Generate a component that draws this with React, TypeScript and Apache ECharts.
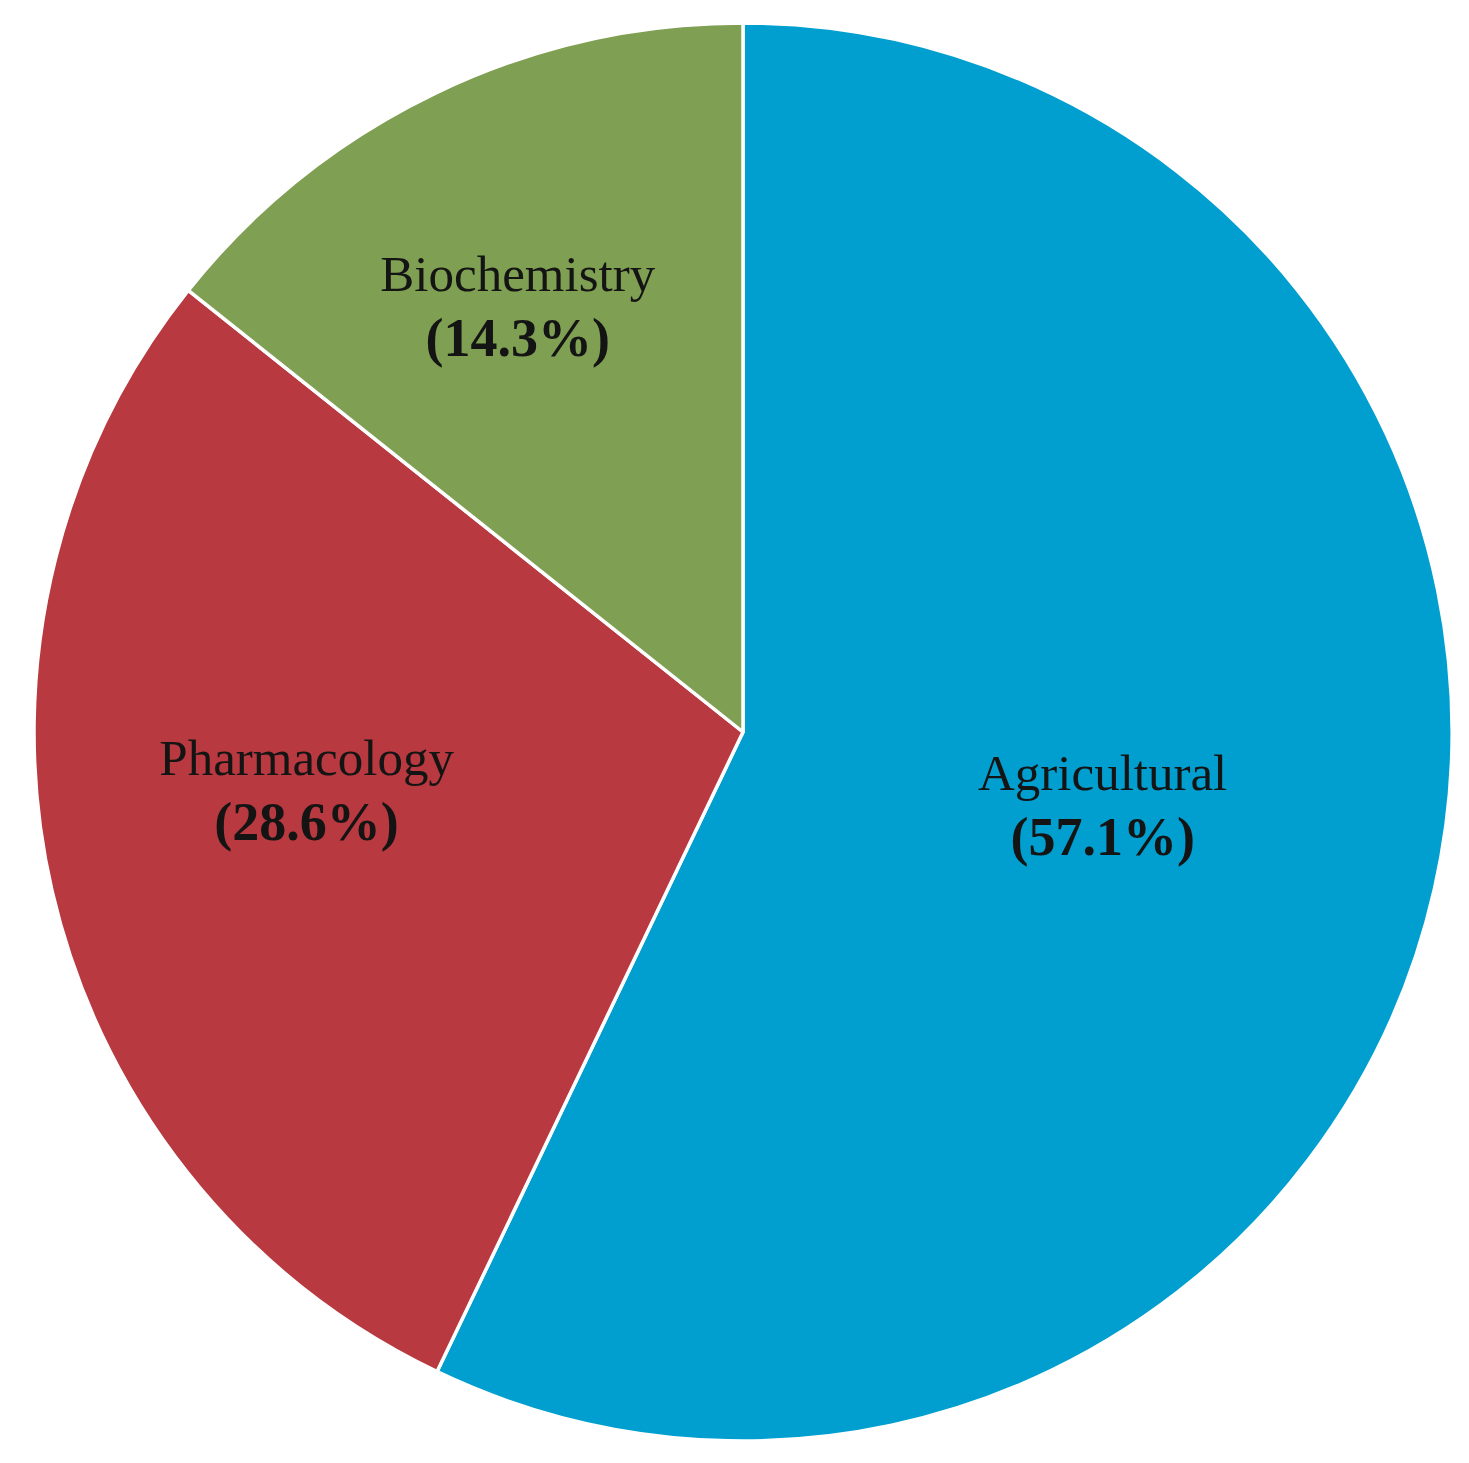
import React, { useEffect, useRef } from "react";
import * as echarts from "echarts";

const categories = ["Agricultural", "Pharmacology", "Biochemistry"];
const percentages = [57.1, 28.6, 14.3];

const COLORS = ["#009FCF", "#B8393F", "#7F9F52"];
const LABEL_OFFSETS: [number, number][] = [
  [11, -6],
  [-88, -22],
  [-70, -104],
];

export default function App() {
  const ref = useRef<HTMLDivElement>(null);
  useEffect(() => {
    document.body.style.margin = "0";
    const chart = echarts.init(ref.current!, undefined, { renderer: "svg" });
    const data = categories.map((name, i) => ({
      name,
      value: percentages[i],
      itemStyle: { color: COLORS[i] },
      label: { offset: LABEL_OFFSETS[i] },
    }));
    chart.setOption({
      animation: false,
      backgroundColor: "#ffffff",
      series: [
        {
          type: "pie",
          center: [743, 732],
          radius: 709,
          startAngle: 90,
          clockwise: true,
          avoidLabelOverlap: false,
          data,
          itemStyle: { borderColor: "#ffffff", borderWidth: 3.5 },
          emphasis: { disabled: true },
          label: {
            show: true,
            position: "inside",
            formatter: (p: any) => `{n|${p.name}}\n{p|(${p.value.toFixed(1)}%)}`,
            rich: {
              n: {
                fontFamily: "Liberation Serif",
                fontSize: 51,
                color: "#141414",
                lineHeight: 64,
                align: "center",
              },
              p: {
                fontFamily: "Liberation Serif",
                fontSize: 54,
                fontWeight: "bold",
                color: "#141414",
                lineHeight: 64,
                align: "center",
              },
            },
          },
          labelLine: { show: false },
        },
      ],
    });
    return () => chart.dispose();
  }, []);
  return <div ref={ref} style={{ width: 1469, height: 1463 }} />;
}
